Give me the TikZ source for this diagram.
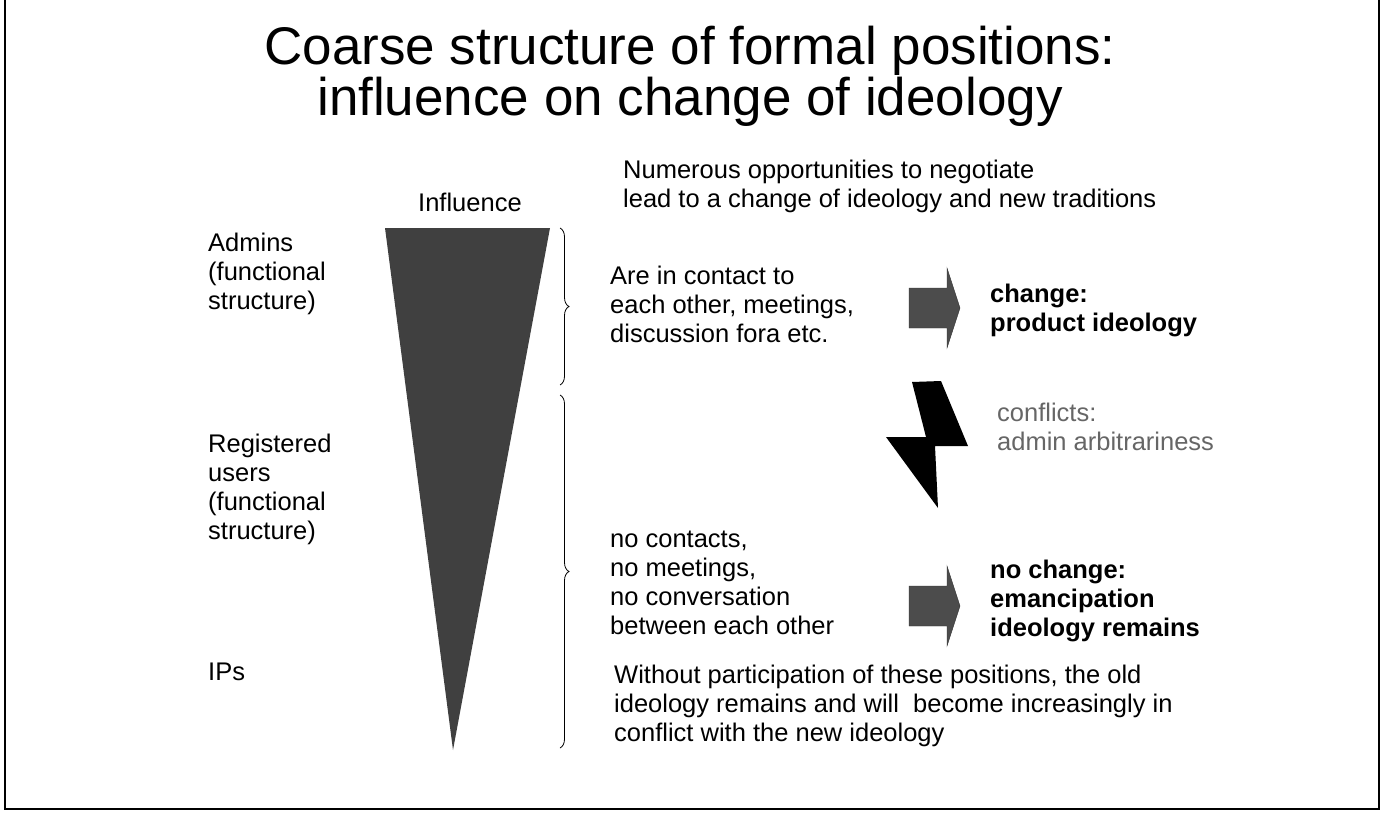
\documentclass[tikz,border=0pt]{standalone}
\usepackage{fontspec}
\setmainfont{Liberation Sans}
\usetikzlibrary{decorations.pathreplacing,shapes.arrows}
\begin{document}
\begin{tikzpicture}[x=1pt,y=-1pt,
  txt/.style={anchor=north west,align=left,font=\fontsize{25.5}{29}\selectfont,inner sep=0pt},
  bold/.style={txt,font=\fontsize{25.5}{29}\selectfont\bfseries},
  brace/.style={decorate,decoration={brace,amplitude=9pt},line width=0.8pt},
  barrow/.style={fill=black!70,draw=black!80}]
\useasboundingbox (0,0) rectangle (1398,812);
\draw[line width=1.2pt] (5,0) -- (5,809) -- (1379,809) -- (1379,0);
\node[font=\fontsize{53}{51}\selectfont,align=center] (title) at (690,76) {Coarse structure of formal positions:\\influence on change of ideology};
\node[txt] (infl) at (418,193) {Influence};
\node[txt] (neg) at (623,160) {Numerous opportunities to negotiate\\lead to a change of ideology and new traditions};
\fill[black!75] (385,228) -- (550,228) -- (453,750) -- cycle;
\node[txt] (adm) at (208,233) {Admins\\(functional\\structure)};
\node[txt] (reg) at (208,434) {Registered\\users\\(functional\\structure)};
\node[txt] (ips) at (208,663) {IPs};
\coordinate (b1a) at (560,228); \coordinate (b1b) at (560,385);
\coordinate (b2a) at (560,395); \coordinate (b2b) at (560,748);
\draw[brace] (b1a) -- (b1b);
\draw[brace] (b2a) -- (b2b);
\node[txt] (cont) at (610,266) {Are in contact to\\each other, meetings,\\discussion fora etc.};
\node[txt] (nocont) at (610,531) {no contacts,\\no meetings,\\no conversation\\between each other};
\node[txt] (without) at (614,665) {Without participation of these positions, the old\\ideology remains and will\ \ become increasingly in\\conflict with the new ideology};
\fill[barrow] (909,288) -- (947,288) -- (947,268) -- (960,308) -- (947,348) -- (947,328) -- (909,328) -- cycle;
\fill[barrow] (909,586) -- (947,586) -- (947,566) -- (960,606) -- (947,646) -- (947,626) -- (909,626) -- cycle;
\node[bold] (chg) at (990,284) {change:\\product ideology};
\node[bold] (nochg) at (990,560) {no change:\\emancipation\\ideology remains};
\fill[black] (912,382) -- (941,381) -- (968,446) -- (935,446) -- (938,508) -- (886,437) -- (926,437) -- cycle;
\node[txt,text=black!60] (conf) at (997,403) {conflicts:\\admin arbitrariness};
\end{tikzpicture}
\end{document}
